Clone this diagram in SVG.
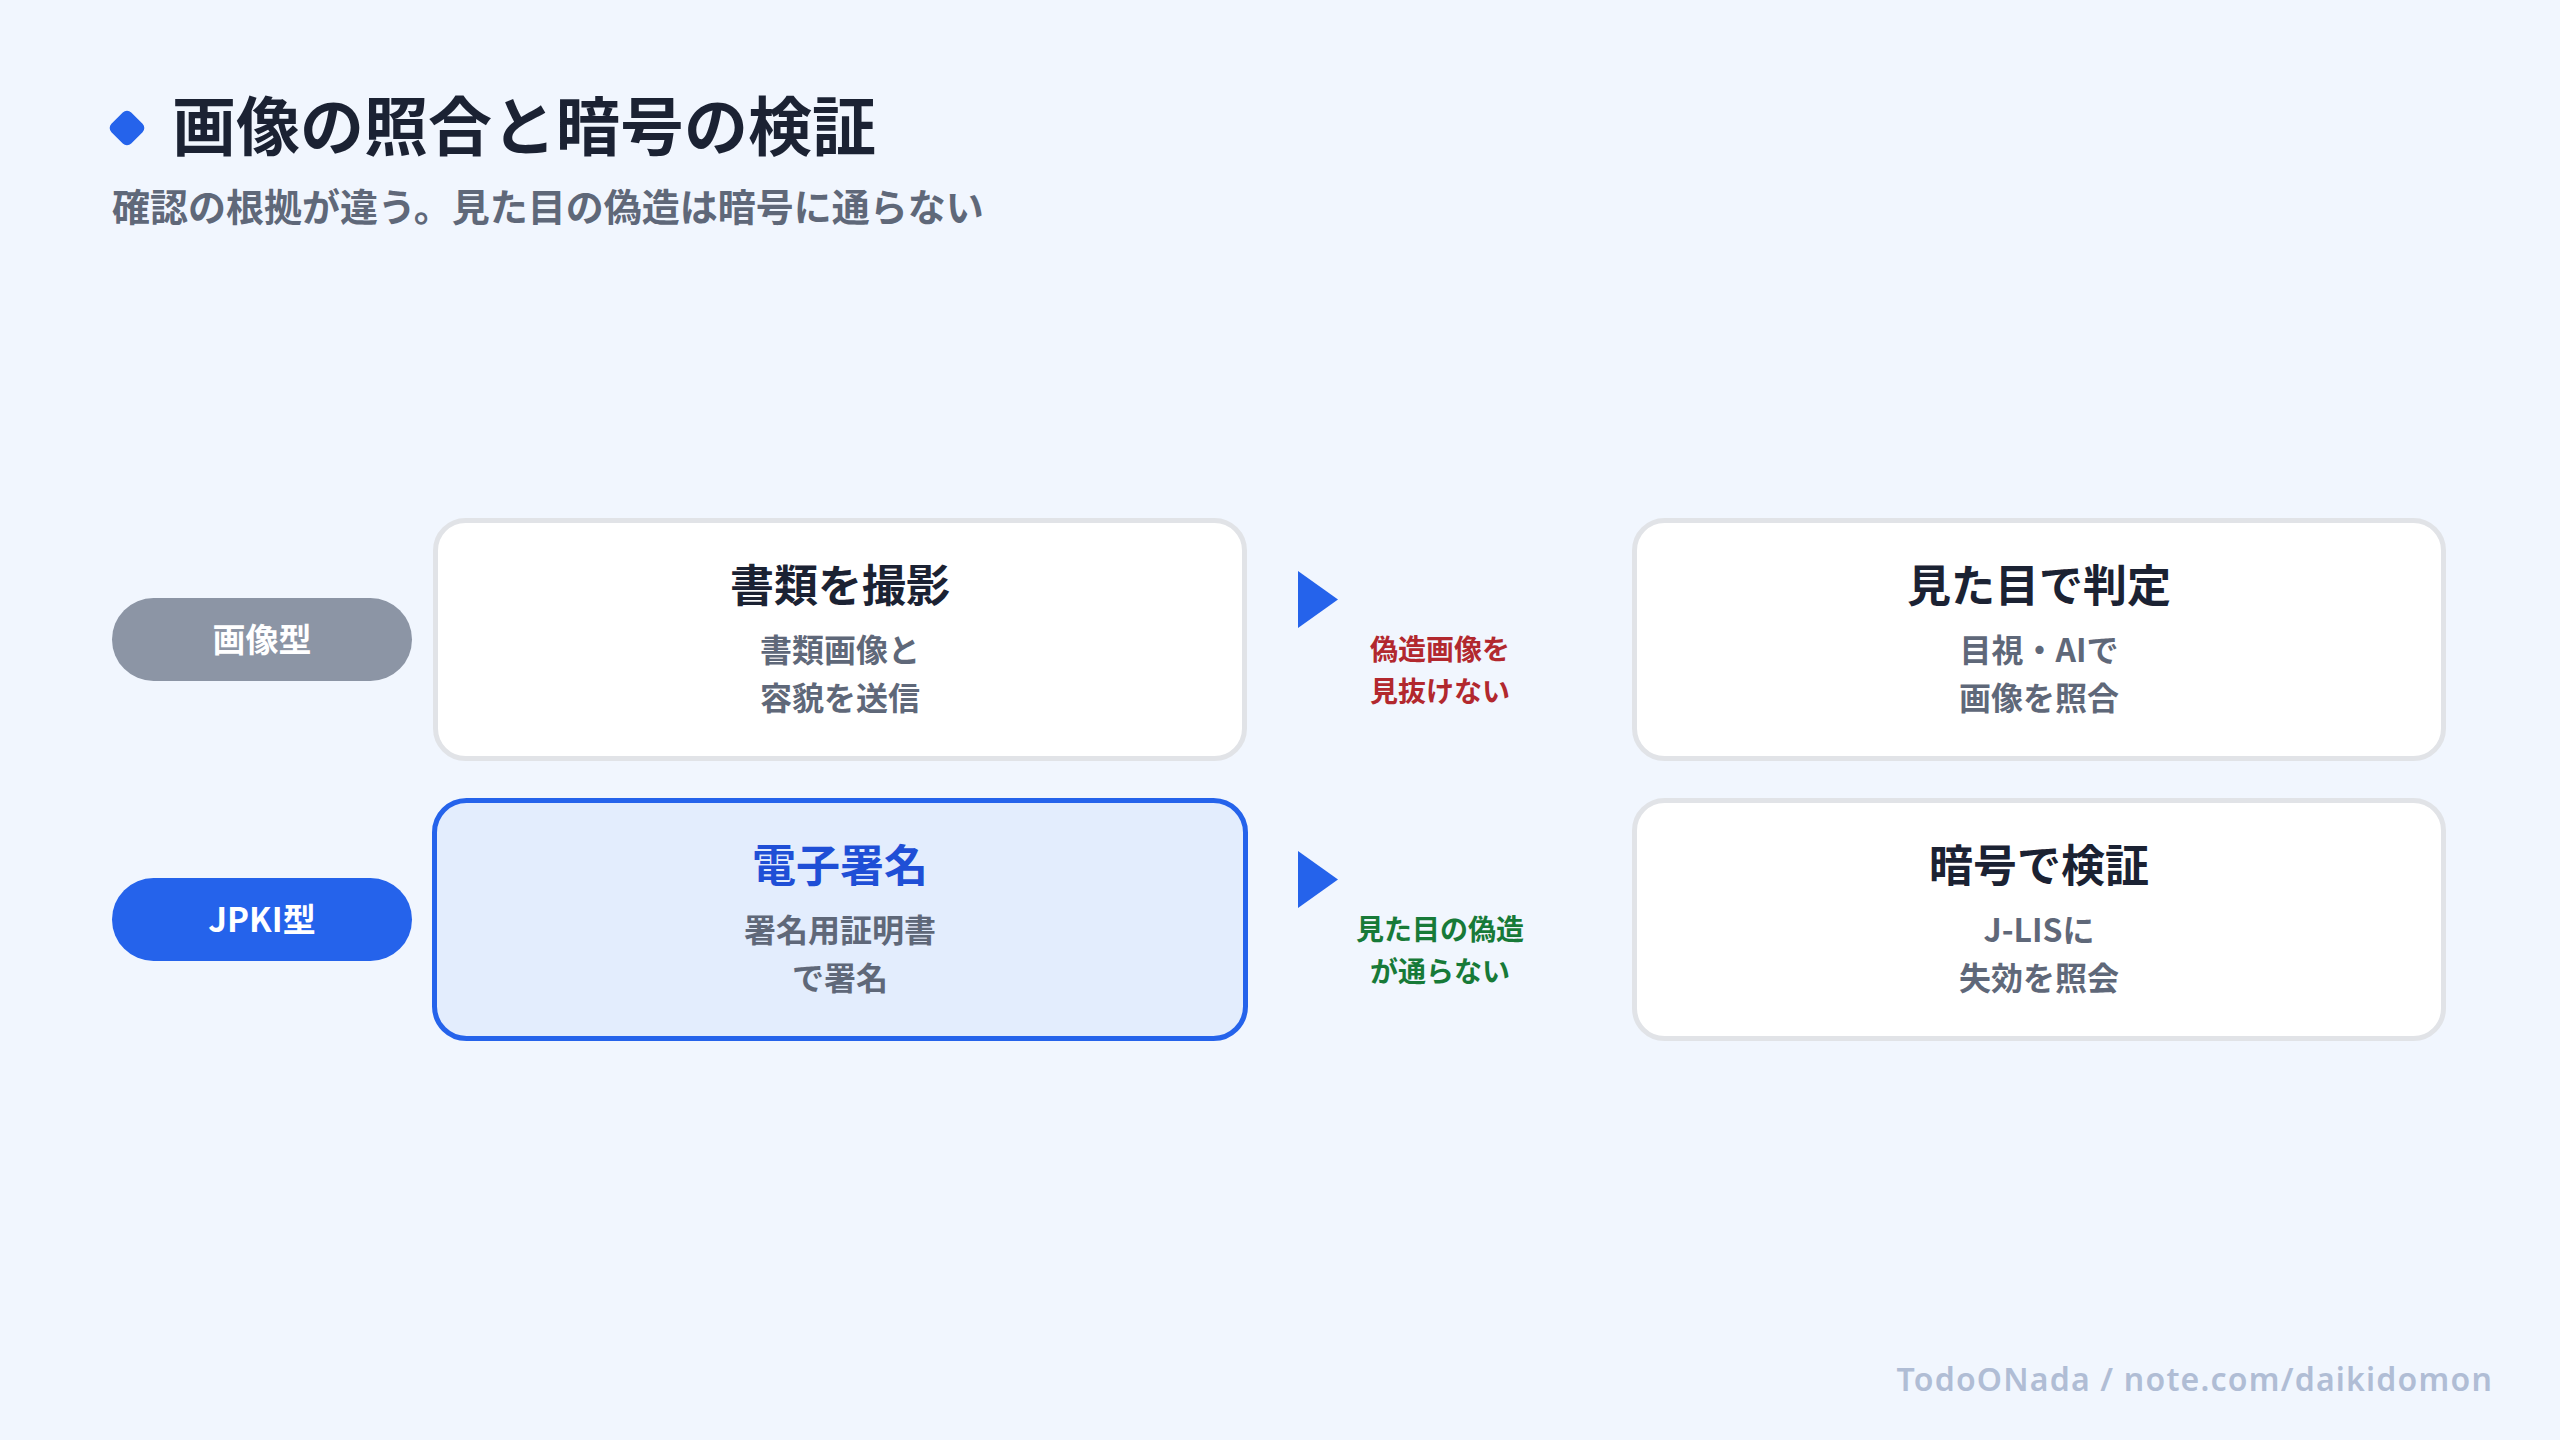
<svg xmlns="http://www.w3.org/2000/svg" width="2560" height="1440" viewBox="0 0 2560 1440">
<style>
text{font-family:"Noto Sans CJK JP","Noto Sans",sans-serif;font-weight:700}
.title{font-size:64px;fill:#1b2233}
.sub{font-size:38px;fill:#5f6879}
.pill{font-size:33px;fill:#ffffff;text-anchor:middle}
.box{fill:#ffffff;stroke:#e1e3e7;stroke-width:5}
.boxhl{fill:#e3edfd;stroke:#2563eb;stroke-width:5}
.bt{font-size:44px;fill:#1b2233;text-anchor:middle}
.bthl{font-size:44px;fill:#1f4fd6;text-anchor:middle}
.bs{font-size:32px;fill:#5f6879;text-anchor:middle}
.lab{font-size:28px;text-anchor:middle}
.arrow{fill:#2563eb}
.foot{font-size:32px;fill:#b0bdd5;text-anchor:end;font-family:"Noto Sans","Open Sans",sans-serif;font-weight:600;letter-spacing:1.2px}
</style>
<rect width="2560" height="1440" fill="#f1f6fe"/>
<g id="header">
<rect x="113" y="114" width="28" height="28" rx="6" fill="#2563eb" transform="rotate(45 127 128)"/>
<text class="title" x="172" y="150">画像の照合と暗号の検証</text>
<text class="sub" x="112" y="221">確認の根拠が違う。見た目の偽造は暗号に通らない</text>
</g>
<g id="pill-image">
<rect x="112" y="598" width="300" height="83" rx="41.5" fill="#8c95a5"/>
<text class="pill" x="262" y="652">画像型</text>
</g>
<g id="pill-jpki">
<rect x="112" y="878" width="300" height="83" rx="41.5" fill="#2563eb"/>
<text class="pill" x="262" y="932">JPKI型</text>
</g>
<g id="box-photo">
<rect class="box" x="435.5" y="520.5" width="809" height="238" rx="30"/>
<text class="bt" x="840" y="602">書類を撮影</text>
<text class="bs" x="840" y="662">書類画像と</text>
<text class="bs" x="840" y="710">容貌を送信</text>
</g>
<g id="box-visual">
<rect class="box" x="1634.5" y="520.5" width="809" height="238" rx="30"/>
<text class="bt" x="2039" y="602">見た目で判定</text>
<text class="bs" x="2039" y="662">目視・AIで</text>
<text class="bs" x="2039" y="710">画像を照合</text>
</g>
<g id="box-sign">
<rect class="boxhl" x="434.5" y="800.5" width="811" height="238" rx="32"/>
<text class="bthl" x="840" y="882">電子署名</text>
<text class="bs" x="840" y="942">署名用証明書</text>
<text class="bs" x="840" y="990">で署名</text>
</g>
<g id="box-crypto">
<rect class="box" x="1634.5" y="800.5" width="809" height="238" rx="30"/>
<text class="bt" x="2039" y="882">暗号で検証</text>
<text class="bs" x="2039" y="942">J-LISに</text>
<text class="bs" x="2039" y="990">失効を照会</text>
</g>
<g id="connectors">
<polygon class="arrow" points="1298,571 1338,599.5 1298,628"/>
<text class="lab" x="1440" y="660" fill="#b2282e">偽造画像を</text>
<text class="lab" x="1440" y="702" fill="#b2282e">見抜けない</text>
<polygon class="arrow" points="1298,851 1338,879.5 1298,908"/>
<text class="lab" x="1440" y="940" fill="#177a38">見た目の偽造</text>
<text class="lab" x="1440" y="982" fill="#177a38">が通らない</text>
</g>
<g id="footer">
<text class="foot" x="2493" y="1391">TodoONada / note.com/daikidomon</text>
</g>
</svg>
